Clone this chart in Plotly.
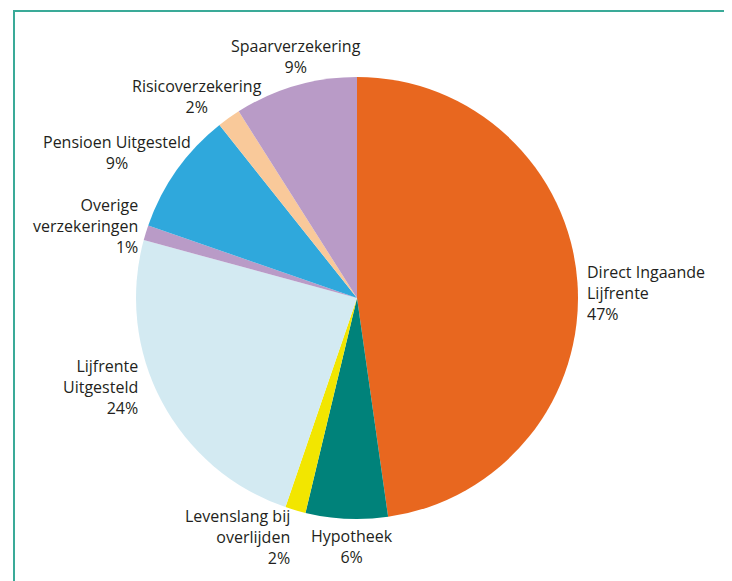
import plotly.graph_objects as go

categories = ["Direct Ingaande Lijfrente", "Hypotheek", "Levenslang bij overlijden",
              "Lijfrente Uitgesteld", "Overige verzekeringen", "Pensioen Uitgesteld",
              "Risicoverzekering", "Spaarverzekering"]
label_lines = ["Direct Ingaande<br>Lijfrente", "Hypotheek", "Levenslang bij<br>overlijden",
               "Lijfrente<br>Uitgesteld", "Overige<br>verzekeringen", "Pensioen Uitgesteld",
               "Risicoverzekering", "Spaarverzekering"]
values = [47.8, 6.0, 1.5, 24.0, 1.1, 9.0, 1.7, 9.0]
pct_labels = ["47%", "6%", "2%", "24%", "1%", "9%", "2%", "9%"]
colors = ["#E8671F", "#00827A", "#F2E600", "#D3EAF2", "#B99BC7", "#2FA8DC", "#F9C99A", "#B99BC7"]

W, H = 732, 581
OFF = 8  # page body margin offset


def px(x, y):
    return (x - OFF) / W, 1 - (y - OFF) / H


# label layout (screen pixel anchor, xanchor/align)
label_layout = [
    (585, 293, "left"),
    (352, 546, "center"),
    (292, 537, "right"),
    (140, 387, "right"),
    (140, 226, "right"),
    (117, 152, "center"),
    (197, 96, "center"),
    (296, 57, "center"),
]

font = dict(family="Open Sans", size=16, color="#231F20")

annotations = []
for lbl, pct, (lx, ly, anc) in zip(label_lines, pct_labels, label_layout):
    ax, ay = px(lx, ly)
    annotations.append(dict(
        text=f"{lbl}<br>{pct}", x=ax, y=ay, xref="paper", yref="paper",
        xanchor=anc, yanchor="middle", align=anc, showarrow=False, font=font,
    ))

cx, cy, r = 357, 298, 221
x0, y0 = px(cx - r, cy + r)
x1, y1 = px(cx + r, cy - r)

fig = go.Figure(go.Pie(
    labels=categories,
    values=values,
    textinfo="none",
    sort=False,
    direction="clockwise",
    rotation=0,
    marker=dict(colors=colors, line=dict(width=0)),
    domain=dict(x=[x0, x1], y=[y0, y1]),
    showlegend=False,
    hoverinfo="label+percent",
))

bx0, by1 = px(14, 11)
bx1, _ = px(726, 11)

fig.update_layout(
    width=W, height=H,
    margin=dict(l=0, r=0, t=0, b=0),
    paper_bgcolor="white",
    showlegend=False,
    annotations=annotations,
    shapes=[dict(type="rect", xref="paper", yref="paper",
                 x0=bx0, x1=bx1, y0=-0.05, y1=by1,
                 line=dict(color="#3AAA98", width=2), fillcolor="rgba(0,0,0,0)")],
)

fig.write_html("out.html")
